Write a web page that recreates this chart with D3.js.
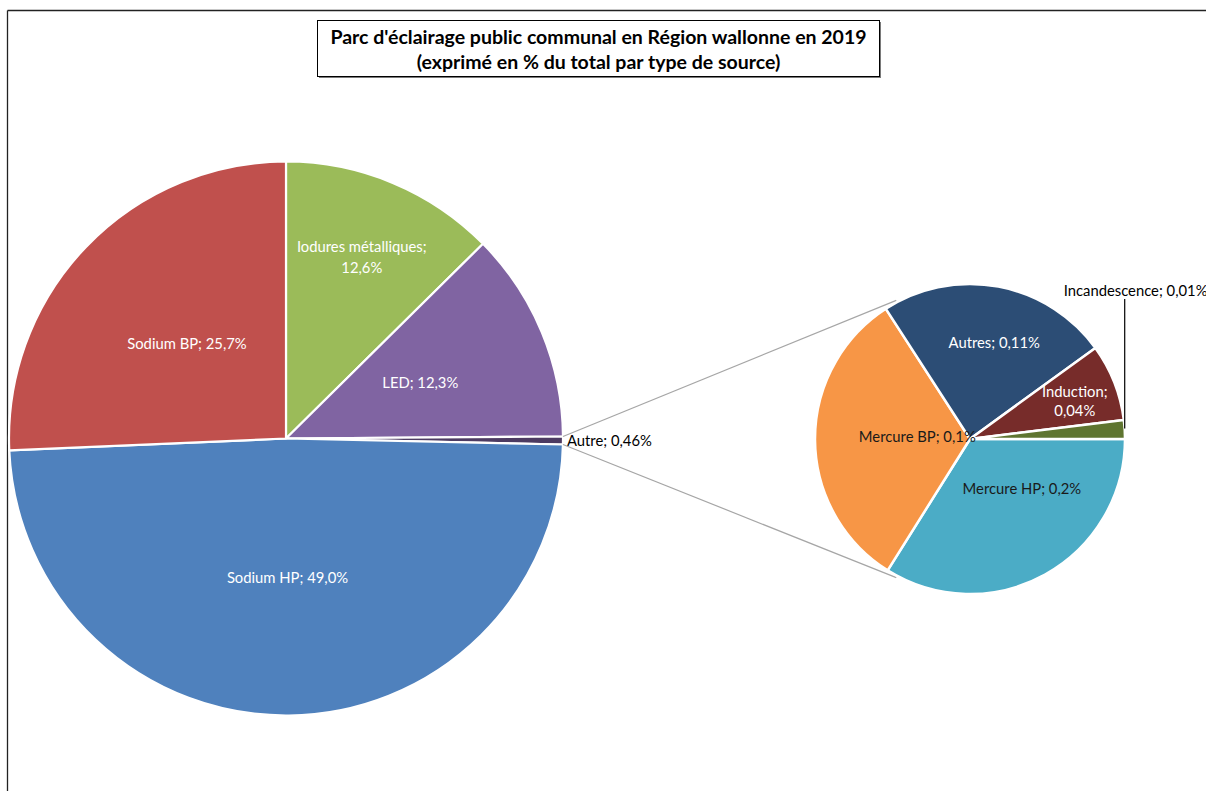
<!DOCTYPE html>
<html>
<head>
<meta charset="utf-8">
<script src="https://cdn.jsdelivr.net/npm/d3@7/dist/d3.min.js"></script>
<style>
  html, body { margin: 0; padding: 0; background: #fff; }
  svg { display: block; font-family: Lato, "Liberation Sans", sans-serif; }
</style>
</head>
<body>
<svg id="chart" width="1206" height="791"></svg>
<script>
// Main pie: share of each light source type (%)
const mainNames  = ["Iodures métalliques", "LED", "Autre", "Sodium HP", "Sodium BP"];
const mainValues = [12.6, 12.3, 0.46, 49.0, 25.7];
const mainDecimals = [1, 1, 2, 1, 1];
const mainColors = ["#9BBB59", "#8064A2", "#4D3B62", "#4F81BD", "#C0504D"];

// Secondary pie: breakdown of "Autre" (%)
const subNames  = ["Mercure HP", "Mercure BP", "Autres", "Induction", "Incandescence"];
const subValues = [0.156, 0.147, 0.111, 0.037, 0.009];
const subDecimals = [1, 1, 2, 2, 2];
const subColors = ["#4BACC6", "#F79646", "#2C4D75", "#772C2A", "#5F7530"];

const titleLines = [
  "Parc d'éclairage public communal en Région wallonne en 2019",
  "(exprimé en % du total par type de source)"
];

const svg = d3.select("#chart");
const W = 1206, H = 791;
const FS = 14.8;

// Chart frame (only the top and left edges fall inside the view)
svg.append("line").attr("x1", 7.5).attr("y1", 10.5).attr("x2", W).attr("y2", 10.5)
  .attr("stroke", "#222").attr("stroke-width", 1.3);
svg.append("line").attr("x1", 7.5).attr("y1", 10.5).attr("x2", 7.5).attr("y2", H)
  .attr("stroke", "#222").attr("stroke-width", 1.3);

// Title box with a small drop shadow
const tb = { x: 317.5, y: 20.5, w: 562, h: 56 };
svg.append("rect").attr("x", tb.x + 1.5).attr("y", tb.y + 1.5).attr("width", tb.w).attr("height", tb.h)
  .attr("fill", "#7a7a7a");
svg.append("rect").attr("x", tb.x).attr("y", tb.y).attr("width", tb.w).attr("height", tb.h)
  .attr("fill", "#fff").attr("stroke", "#000").attr("stroke-width", 1);
svg.append("text")
  .attr("x", tb.x + tb.w / 2).attr("y", 44)
  .attr("text-anchor", "middle").attr("font-weight", "bold").attr("font-size", 19.5)
  .attr("fill", "#000")
  .selectAll("tspan").data(titleLines).join("tspan")
  .attr("x", tb.x + tb.w / 2).attr("dy", (d, i) => i === 0 ? 0 : 24.5).text(d => d);

const fmt = (v, dec) => v.toFixed(dec).replace(".", ",") + "%";

// ---- main pie ----
const mainC = { x: 286, y: 438.5 }, mainR = 277;
const mainPie = d3.pie().sort(null).value(d => d.value).startAngle(0).endAngle(2 * Math.PI);
const mainData = mainNames.map((n, i) => ({ name: n, value: mainValues[i], dec: mainDecimals[i], color: mainColors[i] }));
const mainArcs = mainPie(mainData);
const mainArc = d3.arc().innerRadius(0).outerRadius(mainR);

const gMain = svg.append("g").attr("transform", `translate(${mainC.x},${mainC.y})`);
gMain.selectAll("path").data(mainArcs).join("path")
  .attr("d", mainArc).attr("fill", d => d.data.color)
  .attr("stroke", "#fff").attr("stroke-width", 2.2).attr("stroke-linejoin", "round");

// label placement: radius factor along the slice bisector, plus a nudge
const mainLabelPos = {
  "Iodures métalliques": { k: 0.71, dx: 0, dy: 0, lines: 2 },
  "LED": { k: 0.525, dx: 0, dy: 0 },
  "Sodium HP": { k: 0.505, dx: 0, dy: 0 },
  "Sodium BP": { k: 0.495, dx: 0, dy: 0 }
};

function polar(r, a) { return [r * Math.sin(a), -r * Math.cos(a)]; }

mainArcs.forEach(d => {
  const mid = (d.startAngle + d.endAngle) / 2;
  const txt = d.data.name + "; " + fmt(d.data.value, d.data.dec);
  const p = mainLabelPos[d.data.name];
  if (p) {
    const [x, y] = polar(mainR * p.k, mid);
    const t = gMain.append("text").attr("text-anchor", "middle").attr("font-size", FS)
      .attr("fill", "#fff");
    if (p.lines === 2) {
      t.append("tspan").attr("x", x + p.dx).attr("y", y + p.dy - 10.5 + 5).text(d.data.name + ";");
      t.append("tspan").attr("x", x + p.dx).attr("y", y + p.dy + 10.5 + 5).text(fmt(d.data.value, d.data.dec));
    } else {
      t.attr("x", x + p.dx).attr("y", y + p.dy + 5).text(txt);
    }
  } else {
    // outside label for the exploded slice
    const [x, y] = polar(mainR, mid);
    gMain.append("text").attr("x", x + 4).attr("y", y + 5).attr("font-size", FS)
      .attr("fill", "#000").text(txt);
  }
});

// ---- secondary pie ----
const subC = { x: 970, y: 439 }, subR = 155;
const subPie = d3.pie().sort(null).value(d => d.value).startAngle(Math.PI / 2).endAngle(Math.PI / 2 + 2 * Math.PI);
const subData = subNames.map((n, i) => ({ name: n, value: subValues[i], dec: subDecimals[i], color: subColors[i] }));
const subArcs = subPie(subData);
const subArc = d3.arc().innerRadius(0).outerRadius(subR);

// connector lines from the "Autre" slice to the secondary pie
const autre = mainArcs.find(d => d.data.name === "Autre");
const [ax1, ay1] = polar(mainR, autre.startAngle);
const [ax2, ay2] = polar(mainR, autre.endAngle);
const spread = 62 * Math.PI / 180;
const [bx1, by1] = polar(subR + 2, 1.5 * Math.PI + spread);
const [bx2, by2] = polar(subR + 2, 1.5 * Math.PI - spread);
svg.append("line")
  .attr("x1", mainC.x + ax1).attr("y1", mainC.y + ay1)
  .attr("x2", subC.x + bx1).attr("y2", subC.y + by1)
  .attr("stroke", "#a6a6a6").attr("stroke-width", 1.2);
svg.append("line")
  .attr("x1", mainC.x + ax2).attr("y1", mainC.y + ay2)
  .attr("x2", subC.x + bx2).attr("y2", subC.y + by2)
  .attr("stroke", "#a6a6a6").attr("stroke-width", 1.2);

const gSub = svg.append("g").attr("transform", `translate(${subC.x},${subC.y})`);
gSub.selectAll("path").data(subArcs).join("path")
  .attr("d", subArc).attr("fill", d => d.data.color)
  .attr("stroke", "#fff").attr("stroke-width", 2.5).attr("stroke-linejoin", "round");

const subLabelPos = {
  "Mercure HP": { k: 0.465, dx: 17, dy: -13, color: "#1a1a1a" },
  "Mercure BP": { k: 0.34, dx: 0, dy: -2, color: "#1a1a1a" },
  "Autres": { k: 0.64, dx: 6, dy: 2, color: "#fff" },
  "Induction": { k: 0.72, dx: 1, dy: 3, color: "#fff", lines: 2 }
};

subArcs.forEach(d => {
  const mid = (d.startAngle + d.endAngle) / 2;
  const txt = d.data.name + "; " + fmt(d.data.value, d.data.dec);
  const p = subLabelPos[d.data.name];
  if (p) {
    const [x, y] = polar(subR * p.k, mid);
    const t = gSub.append("text").attr("text-anchor", "middle").attr("font-size", FS).attr("fill", p.color);
    if (p.lines === 2) {
      t.append("tspan").attr("x", x + p.dx).attr("y", y + p.dy - 9.5 + 5).text(d.data.name + ";");
      t.append("tspan").attr("x", x + p.dx).attr("y", y + p.dy + 9.5 + 5).text(fmt(d.data.value, d.data.dec));
    } else {
      t.attr("x", x + p.dx).attr("y", y + p.dy + 5).text(txt);
    }
  } else {
    // thin slice: label above with a vertical leader line
    const [x, y] = polar(subR, mid);
    const topY = -140;
    gSub.append("line").attr("x1", x).attr("y1", y - 1).attr("x2", x).attr("y2", topY)
      .attr("stroke", "#000").attr("stroke-width", 1.2);
    gSub.append("text").attr("x", x - 61).attr("y", topY - 3).attr("font-size", FS)
      .attr("fill", "#000").text(txt);
  }
});
</script>
</body>
</html>
